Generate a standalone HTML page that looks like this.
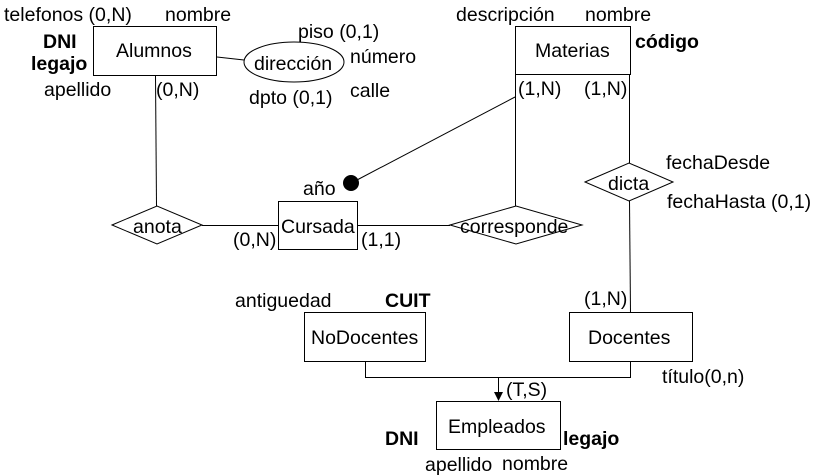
<!DOCTYPE html>
<html><head><meta charset="utf-8"><style>
body{margin:0;background:#fff}
svg{display:block}
text{font-family:"Liberation Sans",sans-serif;font-size:19.5px;fill:#000}
.b{font-weight:bold}
</style></head><body>
<svg width="816" height="476" viewBox="0 0 816 476">
<g stroke="#000" stroke-width="1" fill="none">
<rect x="93.5" y="26.5" width="123" height="49" fill="#fff"/>
<ellipse cx="294" cy="62" rx="50" ry="20" fill="#fff"/>
<line x1="217" y1="57" x2="244" y2="60"/>
<rect x="515.5" y="26.5" width="115" height="48" fill="#fff"/>
<line x1="155.5" y1="76" x2="156.5" y2="206"/>
<polygon points="112,225 157,206 202,225 157,244" fill="#fff"/>
<line x1="202" y1="225.5" x2="278" y2="225.5"/>
<rect x="278.5" y="201.5" width="79" height="48" fill="#fff"/>
<line x1="358" y1="225.5" x2="450" y2="225.5"/>
<polygon points="450,225 516,206 582,225 516,244" fill="#fff"/>
<line x1="515.5" y1="75" x2="515.5" y2="206"/>
<line x1="515" y1="97" x2="357" y2="180"/>
<line x1="629.5" y1="75" x2="629.5" y2="163"/>
<polygon points="585,182 629,163 673,182 629,201" fill="#fff"/>
<line x1="629.5" y1="201" x2="630.5" y2="313"/>
<rect x="304.5" y="312.5" width="121" height="49" fill="#fff"/>
<rect x="569.5" y="312.5" width="123" height="49" fill="#fff"/>
<polyline points="365.5,361 365.5,377.5 630.5,377.5 630.5,361"/>
<line x1="498.5" y1="377" x2="498.5" y2="394"/>
<rect x="436.5" y="401.5" width="124" height="48" fill="#fff"/>
</g>
<polygon points="494,392 503,392 498.5,401" fill="#000"/>
<circle cx="351" cy="183" r="8" fill="#000"/>
<text x="4" y="21">telefonos (0,N)</text>
<text x="165" y="21">nombre</text>
<text x="43" y="48" class="b">DNI</text>
<text x="31" y="70" class="b">legajo</text>
<text x="116" y="57">Alumnos</text>
<text x="44" y="96">apellido</text>
<text x="156" y="96">(0,N)</text>
<text x="298" y="38">piso (0,1)</text>
<text x="254" y="70">dirección</text>
<text x="350" y="63">número</text>
<text x="249" y="104">dpto (0,1)</text>
<text x="350" y="97">calle</text>
<text x="456" y="21">descripción</text>
<text x="585" y="21">nombre</text>
<text x="535" y="57">Materias</text>
<text x="635" y="48" class="b">código</text>
<text x="518" y="95">(1,N)</text>
<text x="584" y="95">(1,N)</text>
<text x="666" y="169">fechaDesde</text>
<text x="608" y="190">dicta</text>
<text x="667" y="208">fechaHasta (0,1)</text>
<text x="303" y="195">año</text>
<text x="133" y="233">anota</text>
<text x="281" y="233">Cursada</text>
<text x="233" y="246">(0,N)</text>
<text x="361" y="246">(1,1)</text>
<text x="460" y="233">corresponde</text>
<text x="235" y="307">antiguedad</text>
<text x="385" y="307" class="b">CUIT</text>
<text x="584" y="305">(1,N)</text>
<text x="311" y="344">NoDocentes</text>
<text x="588" y="344">Docentes</text>
<text x="662" y="383">título(0,n)</text>
<text x="506" y="396">(T,S)</text>
<text x="448" y="433">Empleados</text>
<text x="385" y="445" class="b">DNI</text>
<text x="563" y="445" class="b">legajo</text>
<text x="425" y="471">apellido</text>
<text x="502" y="470">nombre</text>
</svg>
</body></html>
